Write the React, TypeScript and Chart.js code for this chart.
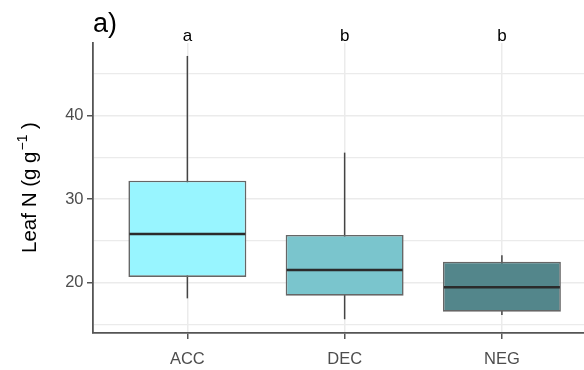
import React, { useEffect, useRef } from "react";
import { Chart, registerables } from "chart.js";

Chart.register(...registerables);

// ---- data ----
const categories = ["ACC", "DEC", "NEG"];
const whiskerLow = [18.1, 15.6, 16.1];
const q1 = [20.66, 18.42, 16.5];
const median = [25.81, 21.5, 19.43];
const q3 = [32.19, 25.69, 22.49];
const whiskerHigh = [47.13, 35.55, 23.26];
const letters = ["a", "b", "b"];
const yMajorTicks = [20, 30, 40];
const fills = ["#98F5FF", "#7AC5CD", "#53868B"];
const panelLabel = "a)";

const FONT = "'Liberation Sans', Arial, sans-serif";

const annotPlugin = {
  id: "annot",
  afterDatasetsDraw(chart: any) {
    const { ctx } = chart;
    const yS = chart.scales.y;
    const boxes = chart.getDatasetMeta(0).data;
    ctx.save();
    ctx.strokeStyle = "#2b2b2b";
    ctx.lineWidth = 2.4;
    boxes.forEach((el: any, i: number) => {
      const p = el.getProps(["x", "width"], true);
      const py = yS.getPixelForValue(median[i]);
      ctx.beginPath();
      ctx.moveTo(p.x - p.width / 2 + 1, py);
      ctx.lineTo(p.x + p.width / 2 - 1, py);
      ctx.stroke();
    });
    ctx.restore();
  },
  afterDraw(chart: any) {
    const { ctx } = chart;
    const xS = chart.scales.x;
    ctx.save();
    // significance letters
    ctx.fillStyle = "#000";
    ctx.font = `17px ${FONT}`;
    ctx.textAlign = "center";
    ctx.textBaseline = "alphabetic";
    letters.forEach((l, i) => {
      ctx.fillText(l, xS.getPixelForValue(i + 1), 40.7);
    });
    // panel label
    ctx.textAlign = "left";
    ctx.font = `27px ${FONT}`;
    ctx.fillText(panelLabel, 93, 31.5);
    // y-axis title with superscript
    ctx.translate(36, 187.5);
    ctx.rotate(-Math.PI / 2);
    const f1 = `20.5px ${FONT}`;
    const f2 = `14px ${FONT}`;
    const t1 = "Leaf N (g g";
    const t2 = "\u22121";
    const t3 = " )";
    ctx.font = f1;
    const w1 = ctx.measureText(t1).width;
    ctx.font = f2;
    const w2 = ctx.measureText(t2).width;
    ctx.font = f1;
    const w3 = ctx.measureText(t3).width;
    let sx = -(w1 + w2 + w3 + 1) / 2;
    ctx.font = f1;
    ctx.fillText(t1, sx, 0);
    sx += w1 + 1;
    ctx.font = f2;
    ctx.fillText(t2, sx, -9);
    sx += w2;
    ctx.font = f1;
    ctx.fillText(t3, sx, 0);
    ctx.restore();
  },
};

export default function App() {
  const ref = useRef<HTMLCanvasElement>(null);
  useEffect(() => {
    const canvas = ref.current!;
    const chart = new Chart(canvas, {
      type: "bar",
      data: {
        datasets: [
          {
            label: "box",
            data: categories.map((_, i) => ({ x: i + 1, y: [q1[i], q3[i]] })) as any,
            backgroundColor: fills,
            borderColor: "#666666",
            borderWidth: 1.6,
            borderSkipped: false,
            grouped: false,
            categoryPercentage: 1,
            barPercentage: 0.75,
          } as any,
          {
            label: "whisker",
            data: categories.map((_, i) => ({ x: i + 1, y: [whiskerLow[i], whiskerHigh[i]] })) as any,
            backgroundColor: "#444444",
            borderWidth: 0,
            grouped: false,
            categoryPercentage: 1,
            barPercentage: 0.01,
            maxBarThickness: 1.5,
          } as any,
        ],
      },
      options: {
        responsive: false,
        animation: false,
        events: [],
        layout: { padding: { top: 43, left: 0, right: 0, bottom: 0 } },
        plugins: {
          legend: { display: false },
          tooltip: { enabled: false },
          title: { display: false },
        },
        scales: {
          x: {
            type: "linear",
            min: 0.4,
            max: 3.522,
            offset: false,
            afterFit: (s: any) => {
              s.height = 37;
            },
            ticks: {
              stepSize: 1,
              includeBounds: false,
              autoSkip: false,
              maxRotation: 0,
              padding: 11,
              color: "#4d4d4d",
              font: { size: 16.5, family: FONT },
              callback: (v: any) => categories[Number(v) - 1] ?? "",
            },
            grid: {
              offset: false,
              color: "#ebebeb",
              lineWidth: 1.5,
              drawTicks: true,
              tickLength: 6,
              tickColor: "#555555",
              tickWidth: 1.5,
            },
            border: { display: true, color: "#555555", width: 1.8 },
          },
          y: {
            type: "linear",
            min: 13.95,
            max: 48.68,
            afterFit: (s: any) => {
              s.width = 93;
            },
            ticks: {
              stepSize: 5,
              includeBounds: false,
              padding: 3.5,
              color: "#4d4d4d",
              font: { size: 16.5, family: FONT },
              callback: (v: any) => (yMajorTicks.includes(Number(v)) ? String(v) : ""),
            },
            grid: {
              color: "#ebebeb",
              lineWidth: (c: any) => (yMajorTicks.includes(c.tick?.value) ? 1.5 : 1.2),
              drawTicks: true,
              tickLength: 6,
              tickColor: (c: any) =>
                yMajorTicks.includes(c.tick?.value) ? "#555555" : "rgba(0,0,0,0)",
              tickWidth: 1.5,
            },
            border: { display: true, color: "#555555", width: 1.8 },
          },
        },
      },
      plugins: [annotPlugin],
    });
    return () => chart.destroy();
  }, []);
  return (
    <div style={{ position: "fixed", left: 0, top: 0, width: 584, height: 370, background: "#fff" }}>
      <canvas ref={ref} width={584} height={370} style={{ display: "block" }} />
    </div>
  );
}
